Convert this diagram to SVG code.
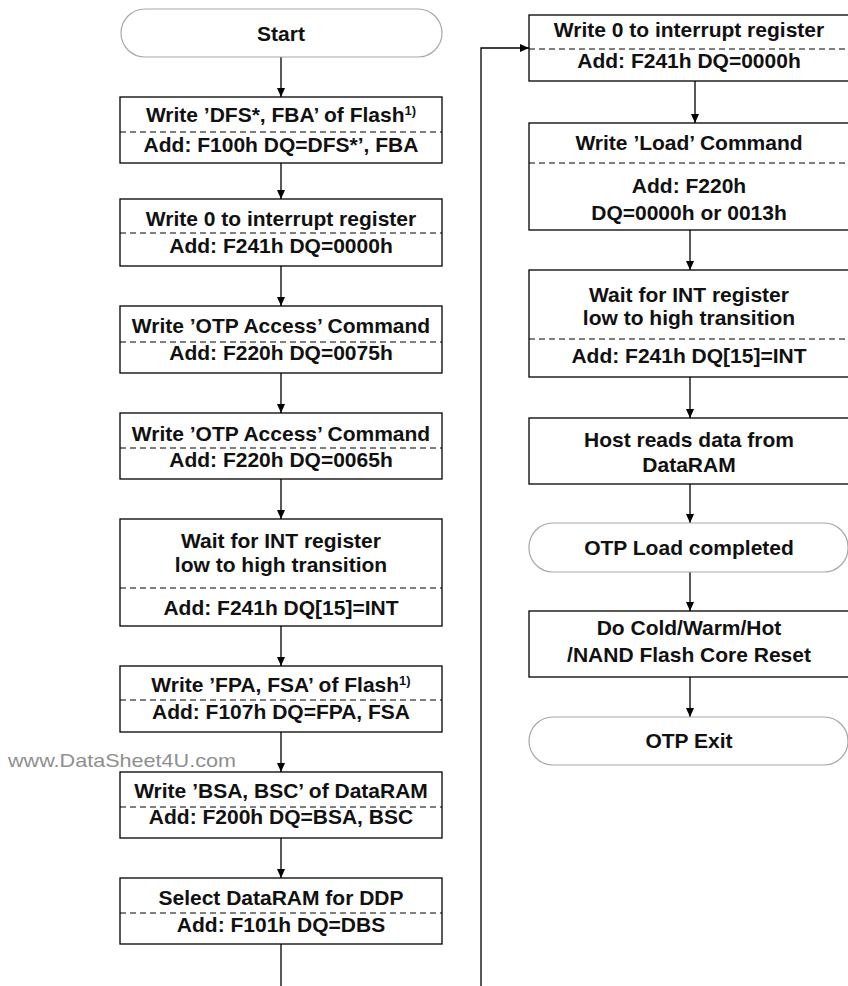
<svg xmlns="http://www.w3.org/2000/svg" width="848" height="986" viewBox="0 0 848 986">
  <defs>
    <marker id="arrow" markerWidth="10" markerHeight="10" refX="9" refY="4" orient="auto" markerUnits="userSpaceOnUse">
      <path d="M0,0 L9,4 L0,8 Z" fill="#000"/>
    </marker>
    <style>
      .box { fill: #fff; stroke: #000; stroke-width: 1.3; }
      .term { fill: #fff; stroke: #a8a8a8; stroke-width: 1.2; }
      .dash { stroke: #000; stroke-width: 1; stroke-dasharray: 6 4; fill: none; }
      .t { font-family: "Liberation Sans", Arial, sans-serif; font-weight: bold; font-size: 21px; text-anchor: middle; fill: #111; }
      .sup { font-size: 13px; }
      .wire { stroke: #000; stroke-width: 1.3; fill: none; }
      .arr { marker-end: url(#arrow); }
      .wm { font-family: "Liberation Sans", Arial, sans-serif; font-size: 19px; fill: #8f8f8f; }
    </style>
  </defs>
  <rect width="848" height="986" fill="#fff"/>

  <!-- connectors -->
  <g id="connectors">
    <line class="wire arr" x1="281" y1="57" x2="281" y2="97"/>
    <line class="wire arr" x1="281" y1="163" x2="281" y2="199"/>
    <line class="wire arr" x1="281" y1="266" x2="281" y2="306"/>
    <line class="wire arr" x1="281" y1="373" x2="281" y2="413"/>
    <line class="wire arr" x1="281" y1="479" x2="281" y2="519"/>
    <line class="wire arr" x1="281" y1="626" x2="281" y2="666"/>
    <line class="wire arr" x1="281" y1="732" x2="281" y2="772"/>
    <line class="wire arr" x1="281" y1="838" x2="281" y2="878"/>
    <line class="wire" x1="281" y1="944" x2="281" y2="986"/>
    <polyline class="wire arr" points="481,986 481,48 529,48"/>
    <line class="wire arr" x1="695" y1="81" x2="695" y2="123"/>
    <line class="wire arr" x1="690" y1="230" x2="690" y2="270"/>
    <line class="wire arr" x1="690" y1="377" x2="690" y2="418"/>
    <line class="wire arr" x1="690" y1="484" x2="690" y2="523"/>
    <line class="wire arr" x1="690" y1="572" x2="690" y2="611"/>
    <line class="wire arr" x1="690" y1="677" x2="690" y2="717"/>
  </g>

  <!-- left column -->
  <g id="start">
    <rect class="term" x="121" y="9" width="321" height="48" rx="24"/>
    <text class="t" x="281" y="41">Start</text>
  </g>
  <g id="write-dfs-fba">
    <rect class="box" x="120" y="97" width="322" height="66"/>
    <line class="dash" x1="120" y1="132" x2="442" y2="132"/>
    <text class="t" x="281" y="122">Write ’DFS*, FBA’ of Flash<tspan class="sup" dy="-7">1)</tspan></text>
    <text class="t" x="281" y="152">Add: F100h DQ=DFS*’, FBA</text>
  </g>
  <g id="clear-int-1">
    <rect class="box" x="120" y="199" width="322" height="67"/>
    <line class="dash" x1="120" y1="233" x2="442" y2="233"/>
    <text class="t" x="281" y="226">Write 0 to interrupt register</text>
    <text class="t" x="281" y="253">Add: F241h DQ=0000h</text>
  </g>
  <g id="otp-access-1">
    <rect class="box" x="120" y="306" width="322" height="67"/>
    <line class="dash" x1="120" y1="342" x2="442" y2="342"/>
    <text class="t" x="281" y="333">Write ’OTP Access’ Command</text>
    <text class="t" x="281" y="360">Add: F220h DQ=0075h</text>
  </g>
  <g id="otp-access-2">
    <rect class="box" x="120" y="413" width="322" height="66"/>
    <line class="dash" x1="120" y1="448" x2="442" y2="448"/>
    <text class="t" x="281" y="441">Write ’OTP Access’ Command</text>
    <text class="t" x="281" y="467">Add: F220h DQ=0065h</text>
  </g>
  <g id="wait-int-1">
    <rect class="box" x="120" y="519" width="322" height="107"/>
    <line class="dash" x1="120" y1="588" x2="442" y2="588"/>
    <text class="t" x="281" y="548">Wait for INT register</text>
    <text class="t" x="281" y="572">low to high transition</text>
    <text class="t" x="281" y="615">Add: F241h DQ[15]=INT</text>
  </g>
  <g id="write-fpa-fsa">
    <rect class="box" x="120" y="666" width="322" height="66"/>
    <line class="dash" x1="120" y1="700" x2="442" y2="700"/>
    <text class="t" x="281" y="692">Write ’FPA, FSA’ of Flash<tspan class="sup" dy="-7">1)</tspan></text>
    <text class="t" x="281" y="719">Add: F107h DQ=FPA, FSA</text>
  </g>
  <g id="write-bsa-bsc">
    <rect class="box" x="120" y="772" width="322" height="66"/>
    <line class="dash" x1="120" y1="807" x2="442" y2="807"/>
    <text class="t" x="281" y="798">Write ’BSA, BSC’ of DataRAM</text>
    <text class="t" x="281" y="824">Add: F200h DQ=BSA, BSC</text>
  </g>
  <g id="select-dataram">
    <rect class="box" x="120" y="878" width="322" height="66"/>
    <line class="dash" x1="120" y1="913" x2="442" y2="913"/>
    <text class="t" x="281" y="905">Select DataRAM for DDP</text>
    <text class="t" x="281" y="932">Add: F101h DQ=DBS</text>
  </g>

  <!-- right column -->
  <g id="clear-int-2">
    <rect class="box" x="529" y="15" width="322" height="66"/>
    <line class="dash" x1="529" y1="49" x2="851" y2="49"/>
    <text class="t" x="689" y="37">Write 0 to interrupt register</text>
    <text class="t" x="689" y="68">Add: F241h DQ=0000h</text>
  </g>
  <g id="load-command">
    <rect class="box" x="529" y="123" width="322" height="107"/>
    <line class="dash" x1="529" y1="163" x2="851" y2="163"/>
    <text class="t" x="689" y="150">Write ’Load’ Command</text>
    <text class="t" x="689" y="193">Add: F220h</text>
    <text class="t" x="689" y="220">DQ=0000h or 0013h</text>
  </g>
  <g id="wait-int-2">
    <rect class="box" x="529" y="270" width="322" height="107"/>
    <line class="dash" x1="529" y1="339" x2="851" y2="339"/>
    <text class="t" x="689" y="302">Wait for INT register</text>
    <text class="t" x="689" y="325">low to high transition</text>
    <text class="t" x="689" y="363">Add: F241h DQ[15]=INT</text>
  </g>
  <g id="host-read">
    <rect class="box" x="529" y="418" width="322" height="66"/>
    <text class="t" x="689" y="447">Host reads data from</text>
    <text class="t" x="689" y="472">DataRAM</text>
  </g>
  <g id="load-completed">
    <rect class="term" x="529" y="523" width="319" height="49" rx="24"/>
    <text class="t" x="689" y="555">OTP Load completed</text>
  </g>
  <g id="core-reset">
    <rect class="box" x="529" y="611" width="322" height="66"/>
    <text class="t" x="689" y="635">Do Cold/Warm/Hot</text>
    <text class="t" x="689" y="662">/NAND Flash Core Reset</text>
  </g>
  <g id="otp-exit">
    <rect class="term" x="529" y="717" width="319" height="48" rx="24"/>
    <text class="t" x="689" y="748">OTP Exit</text>
  </g>

  <text class="wm" x="8" y="767" textLength="228" lengthAdjust="spacingAndGlyphs">www.DataSheet4U.com</text>
</svg>
